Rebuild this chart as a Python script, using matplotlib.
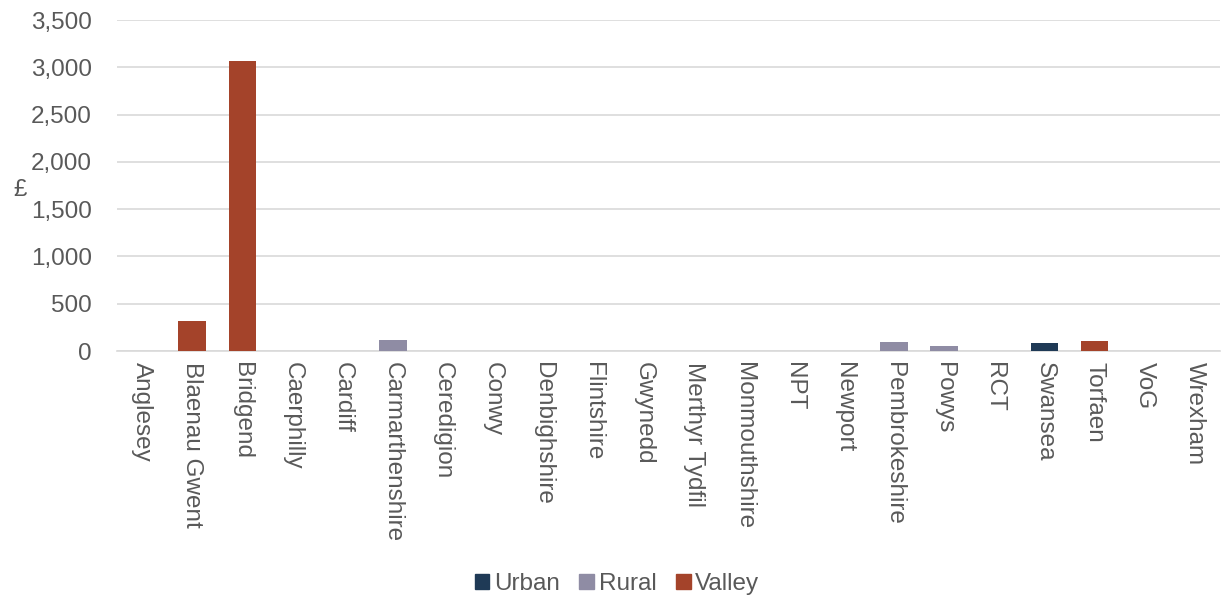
import matplotlib
matplotlib.use("Agg")
import matplotlib.pyplot as plt
import numpy as np

plt.rcParams['font.family'] = ['Liberation Sans', 'DejaVu Sans']

categories = ["Anglesey", "Blaenau Gwent", "Bridgend", "Caerphilly", "Cardiff",
              "Carmarthenshire", "Ceredigion", "Conwy", "Denbighshire", "Flintshire",
              "Gwynedd", "Merthyr Tydfil", "Monmouthshire", "NPT", "Newport",
              "Pembrokeshire", "Powys", "RCT", "Swansea", "Torfaen", "VoG", "Wrexham"]
urban = [0, 0, 0, 0, 0, 0, 0, 0, 0, 0, 0, 0, 0, 0, 0, 0, 0, 0, 88, 0, 0, 0]
rural = [0, 0, 0, 0, 0, 118, 0, 0, 0, 0, 0, 0, 0, 0, 0, 95, 55, 0, 0, 0, 0, 0]
valley = [0, 317, 3065, 0, 0, 0, 0, 0, 0, 0, 0, 0, 0, 0, 0, 0, 0, 0, 0, 108, 0, 0]
series_names = ["Urban", "Rural", "Valley"]
colors = ["#1f3a56", "#8f8ca4", "#a4432a"]

fig = plt.figure(figsize=(12.23, 5.96), dpi=100)
ax = fig.add_axes([117/1223, 1-351/596, (1220-117)/1223, (351-20)/596])

x = np.arange(len(categories))
w = 0.55
for vals, name, c in zip([urban, rural, valley], series_names, colors):
    ax.bar(x, vals, width=w, color=c, label=name, zorder=3)

ax.set_xlim(-0.5, len(categories) - 0.5)
ax.set_ylim(0, 3500)
ax.set_yticks(np.arange(0, 3501, 500))
ax.set_yticklabels([f"{v:,}" for v in range(0, 3501, 500)])
ax.yaxis.grid(True, color="#d9d9d9", linewidth=1.2, zorder=0)
ax.set_axisbelow(True)
for s in ["top", "right", "left"]:
    ax.spines[s].set_visible(False)
ax.spines["bottom"].set_color("#d9d9d9")
ax.spines["bottom"].set_linewidth(1.2)
fs = 17.5
ax.tick_params(axis="y", length=0, labelsize=fs, labelcolor="#595959", pad=18)
ax.tick_params(axis="x", length=0, labelsize=fs, labelcolor="#595959", pad=8)
ax.set_xticks(x)
ax.set_xticklabels(categories, rotation=-90, va="top", ha="center")

fig.text(20/1223, 1-190/596, "£", fontsize=fs, color="#595959",
         ha="center", va="center")

handles = [plt.Rectangle((0, 0), 1, 1, color=c) for c in colors]
fig.legend(handles, series_names, loc="center", bbox_to_anchor=(617/1223, 1-584/596),
           ncol=3, frameon=False, fontsize=fs, handlelength=0.6, handleheight=0.6,
           handletextpad=0.2, columnspacing=0.8, labelcolor="#595959")

fig.savefig("out.png", dpi=100)
